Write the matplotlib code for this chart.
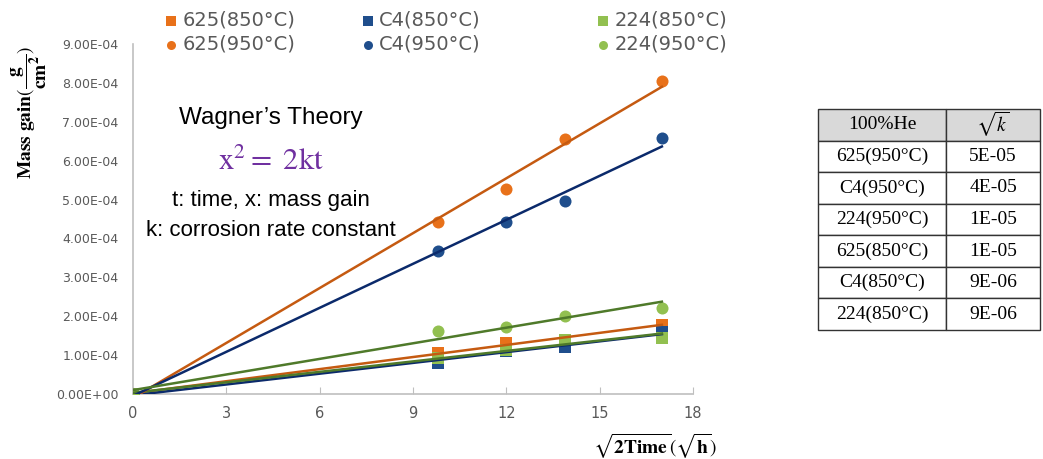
import matplotlib
matplotlib.use("Agg")
import matplotlib.pyplot as plt
import numpy as np

plt.rcParams['mathtext.fontset'] = 'stix'

# ---- data ----
x_vals = [0, 9.8, 12.0, 13.9, 17.0]
s625_850 = [0, 1.06e-4, 1.32e-4, 1.40e-4, 1.77e-4]
c4_850 = [0, 0.80e-4, 1.10e-4, 1.21e-4, 1.60e-4]
s224_850 = [0, 0.92e-4, 1.13e-4, 1.39e-4, 1.44e-4]
s625_950 = [0, 4.42e-4, 5.27e-4, 6.56e-4, 8.05e-4]
c4_950 = [0, 3.68e-4, 4.42e-4, 4.96e-4, 6.58e-4]
s224_950 = [0, 1.62e-4, 1.72e-4, 2.00e-4, 2.21e-4]

series_names = ['625(850°C)', 'C4(850°C)', '224(850°C)',
                '625(950°C)', 'C4(950°C)', '224(950°C)']
x_ticks = [0, 3, 6, 9, 12, 15, 18]
y_ticks = [0, 1e-4, 2e-4, 3e-4, 4e-4, 5e-4, 6e-4, 7e-4, 8e-4, 9e-4]

table_header = ['100%He', r'$\sqrt{k}$']
table_samples = ['625(950°C)', 'C4(950°C)', '224(950°C)',
                 '625(850°C)', 'C4(850°C)', '224(850°C)']
table_k = ['5E-05', '4E-05', '1E-05', '1E-05', '9E-06', '9E-06']

# ---- styles ----
orange_m, blue_m, green_m = '#E8711A', '#1F4E8C', '#92C050'
orange_l, blue_l, green_l = '#C55A11', '#0B2A6B', '#4F7A2A'

fig = plt.figure(figsize=(10.43, 4.59), dpi=100)
ax = fig.add_axes([133/1043, 1-394/459, 560/1043, 350/459])

data = [s625_850, c4_850, s224_850, s625_950, c4_950, s224_950]
mcols = [orange_m, blue_m, green_m, orange_m, blue_m, green_m]
lcols = [orange_l, blue_l, green_l, orange_l, blue_l, green_l]
markers = ['s', 's', 's', 'o', 'o', 'o']

handles = []
xa = np.array(x_vals)
for d, mc, lc, mk, name in zip(data, mcols, lcols, markers, series_names):
    h = ax.scatter(x_vals, d, marker=mk, s=75, color=mc, zorder=3, label=name,
                   linewidths=0)
    handles.append(h)
    coef = np.polyfit(xa, np.array(d), 1)
    xl = np.array([0, max(x_vals)])
    ax.plot(xl, np.polyval(coef, xl), color=lc, lw=1.8, zorder=4)

ax.set_xlim(0, 18)
ax.set_ylim(0, 9e-4)
ax.set_xticks(x_ticks)
ax.set_yticks(y_ticks)
ax.set_yticklabels([('%.2E' % v) for v in y_ticks])
ax.tick_params(axis='y', length=0, labelsize=9, labelcolor='#595959', pad=10.5)
ax.tick_params(axis='x', direction='in', length=5, color='#BFBFBF',
               labelsize=10.5, labelcolor='#595959', pad=9)
for sp in ['top', 'right']:
    ax.spines[sp].set_visible(False)
for sp in ['left', 'bottom']:
    ax.spines[sp].set_color('#BFBFBF')
    ax.spines[sp].set_linewidth(1.2)

# axis labels
fig.text(29/1043, 1-112/459,
         r'$\mathbf{Mass\ gain}(\dfrac{\mathbf{g}}{\mathbf{cm^2}})$',
         rotation=90, ha='center', va='center', fontsize=14)
fig.text(655/1043, 1-446/459,
         r'$\sqrt{\mathbf{2Time}}(\sqrt{\mathbf{h}})$',
         ha='center', va='center', fontsize=14)

# legend: three columns placed at the reference positions
col_x = [158, 355, 590]
for ci, xpix in enumerate(col_x):
    leg = fig.legend([handles[ci], handles[ci + 3]],
                     [series_names[ci], series_names[ci + 3]],
                     ncol=1, loc='upper left',
                     bbox_to_anchor=(xpix/1043, 1 - 7/459),
                     frameon=False, fontsize=14, handletextpad=0.15,
                     labelspacing=0.26, markerscale=0.75,
                     handlelength=0.9, borderaxespad=0.0, borderpad=0.2)
    for t in leg.get_texts():
        t.set_color('#595959')

# annotation text
cx = 271/1043
fig.text(cx, 1-118/459, "Wagner’s Theory", ha='center', va='center',
         fontsize=17.5, family='Liberation Sans', color='black')
fig.text(cx, 1-161/459, r'$\mathrm{x^2{=}\ 2kt}$', ha='center', va='center',
         fontsize=22, color='#7030A0')
fig.text(cx, 1-200/459, 't: time, x: mass gain', ha='center', va='center',
         fontsize=16, family='Liberation Sans', color='black')
fig.text(cx, 1-231/459, 'k: corrosion rate constant', ha='center', va='center',
         fontsize=16, family='Liberation Sans', color='black')

# table
tax = fig.add_axes([818/1043, 1-330/459, 222/1043, 221/459])
tax.axis('off')
cell_text = [[s, k] for s, k in zip(table_samples, table_k)]
tbl = tax.table(cellText=cell_text, colLabels=table_header,
                cellLoc='center', colWidths=[128/222, 94/222],
                bbox=[0, 0, 1, 1])
tbl.auto_set_font_size(False)
for (r, c), cell in tbl.get_celld().items():
    cell.set_edgecolor('#333333')
    cell.set_linewidth(1.0)
    cell.get_text().set_fontsize(14)
    cell.get_text().set_family('Liberation Serif')
    if r == 0:
        cell.set_facecolor('#D9D9D9')
    else:
        cell.set_facecolor('white')

fig.savefig('out.png', dpi=100)
